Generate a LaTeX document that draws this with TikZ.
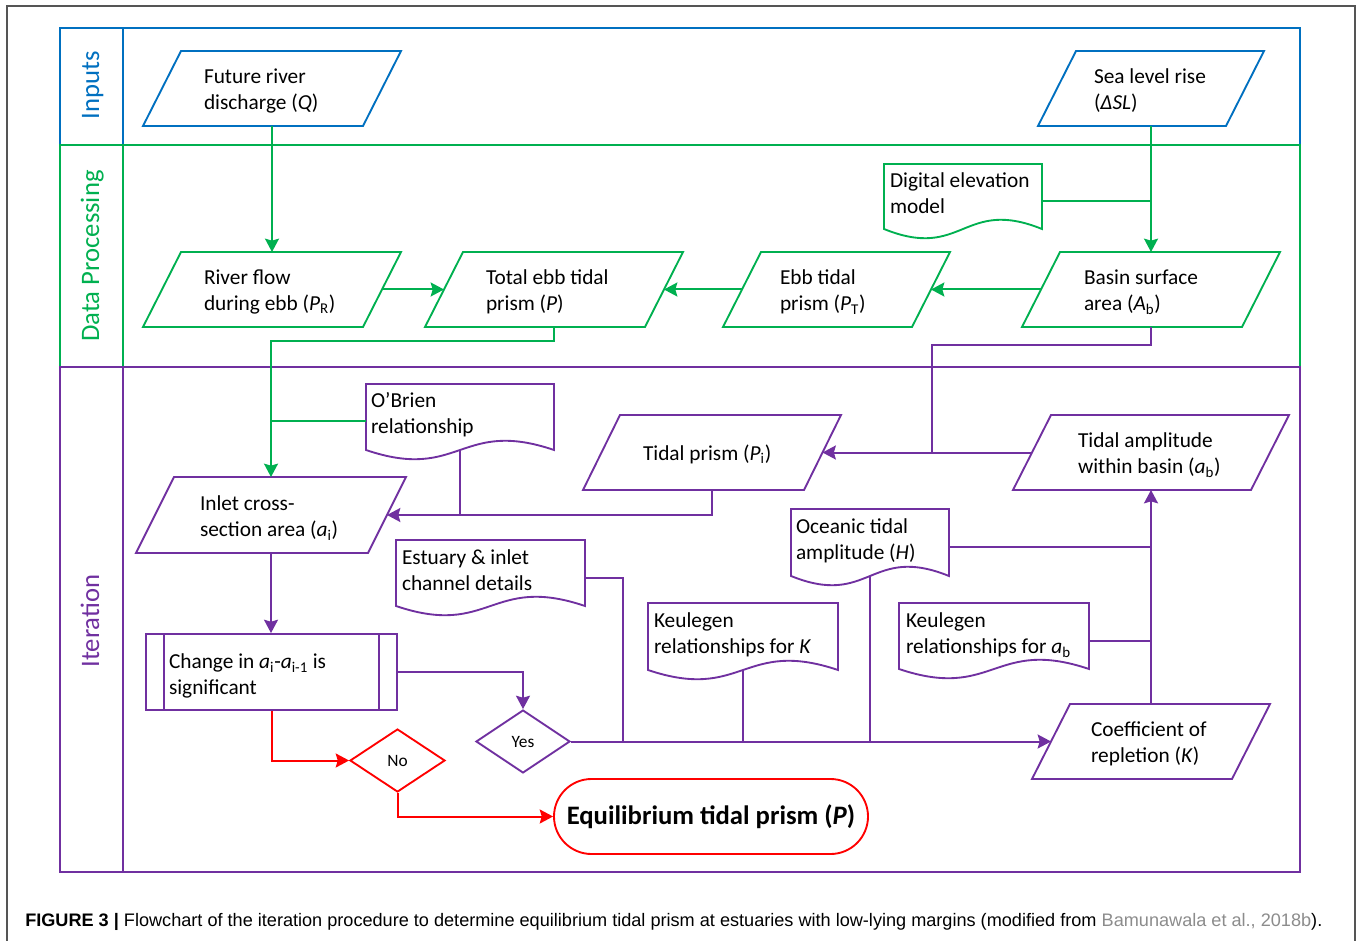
\documentclass[tikz,border=0pt]{standalone}
\usepackage{fontspec}
\setmainfont{Carlito}
\newfontfamily\capfont{Liberation Sans}
\usepackage{graphicx}
\usetikzlibrary{shapes.geometric,shapes.misc,arrows.meta,calc}
\definecolor{cblue}{HTML}{0070C0}
\definecolor{cgreen}{HTML}{00B050}
\definecolor{cpurple}{HTML}{7030A0}
\definecolor{cred}{HTML}{FF0000}
\definecolor{framegray}{HTML}{555555}
\definecolor{capgray}{HTML}{8C8C8C}
% document shape outline around a box node
\newcommand\drawdoc[2]{%
  \draw[#2, line width=1.4pt] (#1.south west) -- (#1.north west) -- (#1.north east) -- (#1.south east)
     .. controls ($(#1.south)+(0,-32)$) and ($(#1.south)+(0,32)$) .. (#1.south west) -- cycle;}
% parallelogram outline around a box node, with side mid points #1-l and #1-r
\newcommand\drawpara[3]{%
  \draw[#2, line width=1.4pt, fill=white] (#1.south west) -- ($(#1.north west)+(#3,0)$) -- (#1.north east) -- ($(#1.south east)+(-#3,0)$) -- cycle;
  \coordinate (#1-l) at ($(#1.west)+(#3/2,0)$);
  \coordinate (#1-r) at ($(#1.east)+(-#3/2,0)$);}
\begin{document}
\begin{tikzpicture}[x=0.75pt,y=-0.75pt,
  box/.style 2 args={rectangle, minimum width=#1*0.75pt, minimum height=#2*0.75pt, inner sep=0pt, outer sep=0pt},
  txt/.style={align=left, inner sep=0pt, outer sep=0pt, anchor=west, font=\fontsize{16}{19.5}\selectfont},
  lane/.style={line width=1.4pt},
  conn/.style={line width=1.5pt},
  arr/.style={conn, -{Stealth[length=10pt,width=10.5pt,inset=1.5pt]}},
  lanelabel/.style={rotate=90, anchor=base, inner sep=0pt, font=\fontsize{20}{24}\selectfont},
  decision/.style={diamond, draw, line width=1.4pt, inner sep=0pt, font=\fontsize{13}{15}\selectfont},
]
\useasboundingbox (0,0) rectangle (1360,941);
\fill[white] (0,0) rectangle (1360,941);
\draw[framegray, line width=1.1pt] (7,941) -- (7,6) -- (1355,6) -- (1355,941);

% swimlanes
\draw[cblue, lane] (60,28) rectangle (1300,145);
\draw[cblue, lane] (123,28) -- (123,145);
\draw[cgreen, lane] (60,145) rectangle (1300,367);
\draw[cgreen, lane] (123,145) -- (123,367);
\draw[cpurple, lane] (60,367) rectangle (1300,872);
\draw[cpurple, lane] (123,367) -- (123,872);
\node[lanelabel, text=cblue] (lin) at (99,85.5) {Inputs};
\node[lanelabel, text=cgreen] (ldp) at (99,256) {Data Processing};
\node[lanelabel, text=cpurple] (lit) at (99,621) {Iteration};

% inputs
\node[box={258}{75}] (q) at (272,88.5) {};
\drawpara{q}{cblue}{38}
\node[txt] (q-t) at (204,91) {Future river\\discharge (\textit{Q})};
\node[box={226}{75}] (slr) at (1151,88.5) {};
\drawpara{slr}{cblue}{38}
\node[txt] (slr-t) at (1094,91) {Sea level rise\\(\textit{ΔSL})};

% data processing
\node[box={258}{75}] (rf) at (272,289.5) {};
\drawpara{rf}{cgreen}{38}
\node[txt] (rf-t) at (204,292) {River flow\\during ebb (\textit{P}\textsubscript{R})};
\node[box={258}{75}] (tot) at (554,289.5) {};
\drawpara{tot}{cgreen}{38}
\node[txt] (tot-t) at (486,292) {Total ebb tidal\\prism (\textit{P})};
\node[box={227}{75}] (ebb) at (836.5,289.5) {};
\drawpara{ebb}{cgreen}{38}
\node[txt] (ebb-t) at (780,292) {Ebb tidal\\prism (\textit{P}\textsubscript{T})};
\node[box={258}{75}] (bsa) at (1151,289.5) {};
\drawpara{bsa}{cgreen}{38}
\node[txt] (bsa-t) at (1084,292) {Basin surface\\area (\textit{A}\textsubscript{b})};
\node[box={158}{65}] (dem) at (963,196.5) {};
\drawdoc{dem}{cgreen}
\node[txt] (dem-t) at (890,193) {Digital elevation\\model};

% iteration
\node[box={188}{66}] (obr) at (460,417) {};
\drawdoc{obr}{cpurple}
\node[txt] (obr-t) at (371,415) {O’Brien\\relationship};
\node[box={258}{75}] (pi) at (712,452.5) {};
\drawpara{pi}{cpurple}{37}
\node[txt] (pi-t) at (643,454) {Tidal prism (\textit{P}\textsubscript{i})};
\node[box={276}{75}] (ab) at (1151,452.5) {};
\drawpara{ab}{cpurple}{38}
\node[txt] (ab-t) at (1078,455) {Tidal amplitude\\within basin (\textit{a}\textsubscript{b})};
\node[box={270}{76}] (ai) at (271,515) {};
\drawpara{ai}{cpurple}{38}
\node[txt] (ai-t) at (200,518) {Inlet cross-\\section area (\textit{a}\textsubscript{i})};
\node[box={158}{67}] (oce) at (870,542.5) {};
\drawdoc{oce}{cpurple}
\node[txt] (oce-t) at (796,541) {Oceanic tidal\\amplitude (\textit{H})};
\node[box={189}{66}] (est) at (490.5,573) {};
\drawdoc{est}{cpurple}
\node[txt] (est-t) at (402,570) {Estuary \& inlet\\channel details};
\node[box={190}{67}] (kk) at (743,636.5) {};
\drawdoc{kk}{cpurple}
\node[txt] (kk-t) at (654,635) {Keulegen\\relationships for \textit{K}};
\node[box={190}{66}] (kab) at (994,636) {};
\drawdoc{kab}{cpurple}
\node[txt] (kab-t) at (906,635) {Keulegen\\relationships for \textit{a}\textsubscript{b}};
\node[box={238}{75}] (coef) at (1151,741.5) {};
\drawpara{coef}{cpurple}{38}
\node[txt] (coef-t) at (1091,744) {Coefficient of\\repletion (\textit{K})};
\node[rectangle, draw=cpurple, line width=1.4pt, minimum width=251*0.75pt, minimum height=76*0.75pt, inner sep=0pt] (chg) at (271.5,672) {};
\draw[cpurple, lane] ($(chg.north west)+(19,0)$) -- ($(chg.south west)+(19,0)$);
\draw[cpurple, lane] ($(chg.north east)+(-19,0)$) -- ($(chg.south east)+(-19,0)$);
\node[txt] (chg-t) at (169,676) {Change in \textit{a}\textsubscript{i}-\textit{a}\textsubscript{i-1} is\\significant};
\node[decision, draw=cpurple, minimum width=94*0.75pt, minimum height=63*0.75pt] (yes) at (523,741.5) {Yes};
\node[decision, draw=cred, minimum width=95*0.75pt, minimum height=63*0.75pt] (no) at (397.5,760.5) {No};
\node[rounded rectangle, draw=cred, line width=1.4pt, minimum width=314*0.75pt, minimum height=75*0.75pt, inner sep=0pt, font=\fontsize{20}{24}\selectfont\bfseries] (eq) at (711,816.5) {\raisebox{-1.5pt}{Equilibrium tidal prism (\textit{P})}};

% green connectors
\draw[arr, cgreen] (q.south) -- (rf.north);
\draw[arr, cgreen] (slr.south) -- (bsa.north);
\coordinate (demout) at ($(dem.east)+(0,5)$);
\draw[conn, cgreen] (demout) -- (demout -| slr.south);
\draw[arr, cgreen] (rf-r) -- (tot-l);
\draw[arr, cgreen] (bsa-l) -- (ebb-r);
\draw[arr, cgreen] (ebb-l) -- (tot-r);
\draw[arr, cgreen] (tot.south) -- ++(0,14) -| (ai.north);
\coordinate (obrout) at ($(obr.west)+(0,4)$);
\draw[conn, cgreen] (obrout) -- (obrout -| ai.north);

% purple connectors
\coordinate (jab) at ($(pi-r)!0.525!(ab-l)$);
\draw[arr, cpurple] (ab-l) -- (pi-r);
\draw[conn, cpurple] (bsa.south) -- ++(0,18) -| (jab);
\draw[arr, cpurple] (pi.south) |- (ai-r);
\draw[conn, cpurple] (obr.south) -- (obr.south |- ai-r);
\draw[arr, cpurple] (ai.south) -- (ai.south |- chg.north);
\draw[arr, cpurple] (chg.east) -| (yes.north);
\coordinate (estout) at ($(est.east)+(0,5)$);
\coordinate (jest) at ($(yes.east)+(52,0)$);
\draw[conn, cpurple] (estout) -| (jest);
\draw[conn, cpurple] (kk.south) -- (kk.south |- yes.east);
\draw[conn, cpurple] (oce.south) -- (oce.south |- yes.east);
\draw[arr, cpurple] (yes.east) -- (coef-l);
\draw[arr, cpurple] (coef.north) -- (ab.south);
\coordinate (oceout) at ($(oce.east)+(0,4.5)$);
\draw[conn, cpurple] (oceout) -- (oceout -| coef.north);
\coordinate (kabout) at ($(kab.east)+(0,4.5)$);
\draw[conn, cpurple] (kabout) -- (kabout -| coef.north);

% red connectors
\draw[arr, cred] (chg.south) |- (no.west);
\draw[arr, cred] (no.south) |- (eq.west);

% caption
\node[anchor=west, inner sep=0pt] (cap) at (25,922) {\resizebox{972.75pt}{!}{\capfont\fontsize{13}{15}\selectfont\textbf{FIGURE 3 |} Flowchart of the iteration procedure to determine equilibrium tidal prism at estuaries with low-lying margins (modified from \textcolor{capgray}{Bamunawala et al., 2018b}).}};
\end{tikzpicture}
\end{document}
